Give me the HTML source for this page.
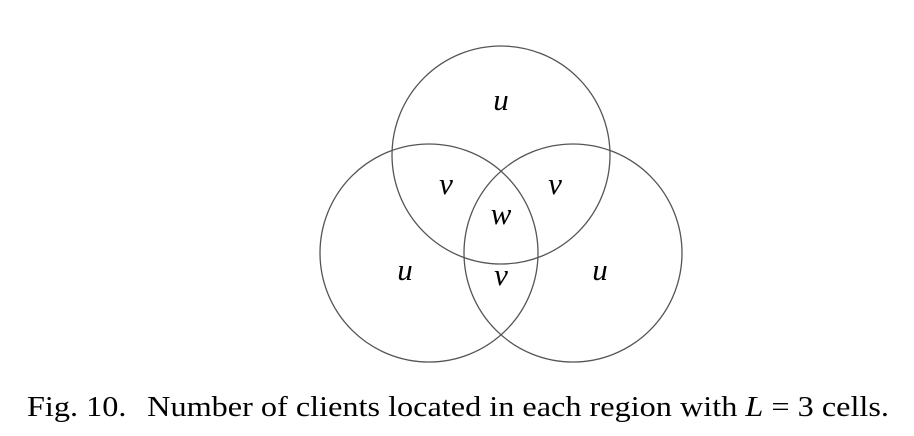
<!DOCTYPE html>
<html><head><meta charset="utf-8"><style>
html,body{margin:0;padding:0;background:#fff;width:914px;height:436px;overflow:hidden}
svg{display:block}
.lbl{font-family:"Liberation Serif",serif;font-style:italic;font-size:31px;fill:#000;text-anchor:middle}
.cap{font-family:"Liberation Serif",serif;font-size:28px;fill:#000}
</style></head><body>
<svg width="914" height="436" viewBox="0 0 914 436">
<g fill="none" stroke="#555" stroke-width="1.3">
<circle cx="501" cy="155" r="109"/>
<circle cx="429" cy="253" r="109"/>
<circle cx="573" cy="253" r="109"/>
</g>
<text class="lbl" x="501" y="110">u</text>
<text class="lbl" x="446" y="194">v</text>
<text class="lbl" x="555" y="194">v</text>
<text class="lbl" x="501" y="224">w</text>
<text class="lbl" x="405" y="280">u</text>
<text class="lbl" x="501" y="285">v</text>
<text class="lbl" x="600" y="280">u</text>
<text class="cap" x="27" y="416" textLength="862" lengthAdjust="spacingAndGlyphs">Fig. 10.<tspan dx="18">Number of clients located in each region with </tspan><tspan font-style="italic">L</tspan> = 3 cells.</text>
</svg>
</body></html>
